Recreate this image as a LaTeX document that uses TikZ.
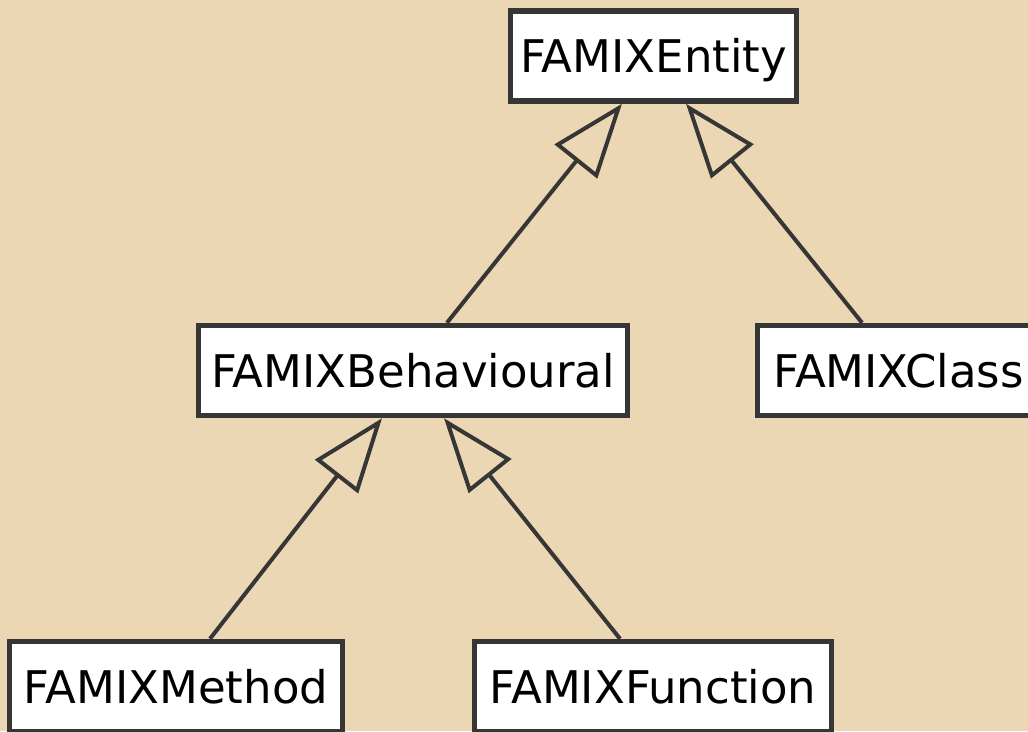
\documentclass[tikz,border=0pt]{standalone}
\usepackage{fontspec}
\setmainfont{DejaVu Sans}
\usetikzlibrary{arrows.meta}
\definecolor{bg}{HTML}{EBD7B4}
\definecolor{ink}{HTML}{363636}
\tikzset{
  cls/.style={draw=ink, line width=5.5pt, fill=white, inner sep=0pt,
    minimum height=90pt, text height=33pt, text depth=0pt,
    font=\fontsize{45}{50}\selectfont},
  inherit/.style={draw=ink, line width=4pt,
    -{Triangle[open, length=74pt, width=54pt]}}
}
\begin{document}
\begin{tikzpicture}[x=1pt,y=-1pt]
\useasboundingbox (0,0) rectangle (1028,731);
\clip (0,0) rectangle (1028,731);
\fill[bg] (0,0) rectangle (1028,731);

\node[cls, minimum width=286pt] (ent) at (653.5,56) {FAMIXEntity};
\node[cls, minimum width=429pt] (beh) at (413,370.5) {FAMIXBehavioural};
\node[cls, minimum width=282pt] (cla) at (898.5,370.5) {FAMIXClass};
\node[cls, minimum width=333pt] (met) at (176,686.5) {FAMIXMethod};
\node[cls, minimum width=357pt] (fun) at (653,686.5) {FAMIXFunction};

\draw[inherit] ([xshift=34pt]beh.north) -- ([xshift=-31.5pt]ent.south);
\draw[inherit] ([xshift=-36.5pt]cla.north) -- ([xshift=32.5pt]ent.south);
\draw[inherit] ([xshift=34pt]met.north) -- ([xshift=-31pt]beh.south);
\draw[inherit] ([xshift=-33pt]fun.north) -- ([xshift=31pt]beh.south);
\end{tikzpicture}
\end{document}
